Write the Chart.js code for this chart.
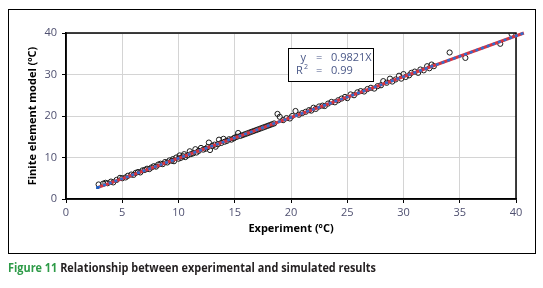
<!DOCTYPE html>
<html>
<head>
<meta charset="utf-8">
<script src="https://cdn.jsdelivr.net/npm/chart.js@4.4.1/dist/chart.umd.min.js"></script>
<style>
  html, body { margin: 0; padding: 0; background: #fff; }
  #wrap { position: relative; width: 543px; height: 288px; }
</style>
</head>
<body>
<div id="wrap"><canvas id="fig11" width="543" height="288"></canvas></div>
<script>
// measured (experiment) vs simulated (finite element model), degC
const expX = [2.9, 3.3, 3.5, 3.7, 4.0, 4.2, 4.5, 4.8, 5.0, 5.3, 5.5, 5.8, 6.0, 6.2, 6.4, 6.6, 6.8, 7.0,
  7.2, 7.4, 7.6, 7.8, 8.0, 8.2, 8.4, 8.6, 8.8, 9.0, 9.2, 9.4, 9.5, 9.6, 9.8, 10.0, 10.1, 10.2, 10.4,
  10.5, 10.6, 10.8, 11.0, 11.1, 11.3, 11.5, 11.6, 11.8, 12.0, 12.2, 12.4, 12.6, 12.7, 12.8, 13.0,
  13.2, 13.3, 13.5, 13.6, 13.8, 14.0, 14.1, 14.3, 14.5, 14.7, 14.9, 15.0, 15.2, 15.3, 15.5, 15.7,
  15.9, 16.1, 16.3, 16.5, 16.7, 16.9, 17.1, 17.3, 17.5, 17.7, 17.9, 18.1, 18.3, 18.5, 18.8, 19.0,
  19.3, 19.6, 19.9, 20.1, 20.4, 20.7, 21.0, 21.3, 21.6, 21.8, 22.0, 22.2, 22.5, 22.8, 23.0, 23.3,
  23.6, 23.9, 24.2, 24.5, 24.8, 25.0, 25.3, 25.6, 25.9, 26.2, 26.5, 26.8, 27.1, 27.4, 27.7, 28.0,
  28.2, 28.5, 28.8, 29.0, 29.3, 29.6, 29.8, 30.0, 30.2, 30.5, 30.7, 31.0, 31.3, 31.5, 31.8, 32.1,
  32.3, 32.5, 32.7, 34.1, 35.5, 38.6, 39.6];
const femY = [3.5, 3.7, 3.9, 3.8, 4.2, 4.0, 4.6, 5.1, 5.0, 5.2, 5.6, 5.9, 5.8, 6.3, 6.5, 6.4, 6.9, 7.0,
  7.3, 7.2, 7.6, 7.9, 7.8, 8.3, 8.5, 8.4, 8.9, 8.8, 9.3, 9.2, 9.6, 9.1, 10.0, 9.7, 10.5, 9.9, 10.3,
  10.8, 10.1, 10.5, 11.5, 10.8, 11.0, 12.0, 11.2, 11.6, 12.3, 11.9, 12.1, 12.5, 13.6, 11.8, 12.8,
  13.1, 12.6, 13.2, 14.3, 13.5, 14.5, 13.8, 14.0, 14.4, 14.3, 14.6, 14.8, 15.0, 15.9, 15.2, 15.4,
  15.6, 15.8, 16.0, 16.2, 16.4, 16.6, 16.8, 17.0, 17.2, 17.4, 17.6, 17.8, 18.0, 18.2, 20.5, 19.8,
  19.0, 19.5, 19.4, 20.0, 21.2, 20.3, 20.7, 21.0, 21.4, 21.3, 22.0, 21.7, 22.3, 22.5, 22.4, 23.0,
  23.4, 23.3, 23.8, 24.2, 24.6, 24.3, 25.2, 25.0, 25.7, 26.0, 25.9, 26.5, 26.8, 26.6, 27.2, 27.4,
  28.4, 28.0, 29.0, 28.3, 28.8, 29.7, 29.0, 30.1, 29.4, 29.8, 30.4, 30.7, 30.4, 31.2, 31.0, 32.0,
  31.5, 32.4, 32.0, 35.3, 34.0, 37.4, 39.8];

// fitted line y = 0.9821x, end points
const fitX = [2.8, 40.7];
const fitY = [2.75, 40.0];

const xTicks = [0, 5, 10, 15, 20, 25, 30, 35, 40];
const yTicks = [0, 10, 20, 30, 40];

const tickColor = '#4f5070';
const fontFam = '"Open Sans", "DejaVu Sans", sans-serif';

const pts = expX.map((x, i) => ({ x: x, y: femY[i] }));
const fit = fitX.map((x, i) => ({ x: x, y: fitY[i] }));

const framePlugin = {
  id: 'frame',
  beforeDatasetsDraw(chart) {
    const c = chart.ctx, a = chart.chartArea;
    c.save();
    c.strokeStyle = '#000';
    c.lineWidth = 1.5;
    c.strokeRect(a.left, a.top, a.right - a.left, a.bottom - a.top);
    c.restore();
  },
  afterDraw(chart) {
    const c = chart.ctx;
    c.save();
    // outer frame
    c.strokeStyle = '#000';
    c.lineWidth = 1;
    c.strokeRect(8.5, 9.5, 527, 244);

    // equation box
    c.fillStyle = '#fff';
    c.fillRect(288.5, 48.5, 85, 33);
    c.strokeRect(288.5, 48.5, 85, 33);
    c.fillStyle = '#4a5888';
    c.font = '11px ' + fontFam;
    c.textBaseline = 'middle';
    c.textAlign = 'right';
    c.fillText('y', 306, 58);
    c.textAlign = 'left';
    c.fillText('=', 316, 58);
    c.fillText('0.9821X', 331, 58);
    c.fillText('R', 296, 71);
    c.font = '7px ' + fontFam;
    c.fillText('2', 304, 67);
    c.font = '11px ' + fontFam;
    c.fillText('=', 316, 71);
    c.fillText('0.99', 331, 71);

    // caption
    c.textBaseline = 'alphabetic';
    c.font = 'bold 12.5px ' + fontFam;
    const a1 = 'Figure 11 ';
    const a2 = 'Relationship between experimental and simulated results';
    const w1 = c.measureText(a1).width, w2 = c.measureText(a2).width;
    const sx = 368 / (w1 + w2);
    c.translate(8, 272);
    c.scale(sx, 1);
    c.fillStyle = '#2e9b48';
    c.fillText(a1, 0, 0);
    c.fillStyle = '#231f20';
    c.fillText(a2, w1, 0);
    c.restore();
  }
};

new Chart(document.getElementById('fig11'), {
  type: 'scatter',
  data: {
    datasets: [
      {
        type: 'line',
        data: fit,
        borderColor: '#2f6fd0',
        borderWidth: 2.5,
        borderDash: [3, 3],
        pointRadius: 2,
        pointStyle: 'rect',
        pointBackgroundColor: '#1f5fbf',
        pointBorderWidth: 0,
        clip: false
      },
      {
        type: 'line',
        data: fit,
        borderColor: '#d8343f',
        borderWidth: 3,
        pointRadius: 0,
        clip: false
      },
      {
        data: pts,
        pointStyle: 'circle',
        pointRadius: 2.6,
        borderColor: '#1a1a1a',
        borderWidth: 1,
        backgroundColor: 'rgba(0,0,0,0)'
      }
    ]
  },
  options: {
    responsive: false,
    animation: false,
    events: [],
    layout: { padding: { left: 8, top: 33, right: 27, bottom: 50 } },
    plugins: {
      legend: { display: false },
      tooltip: { enabled: false }
    },
    scales: {
      x: {
        type: 'linear',
        min: 0,
        max: 40,
        afterBuildTicks: (s) => { s.ticks = xTicks.map(v => ({ value: v })); },
        afterFit: (s) => { s.height = 39; },
        grid: { color: '#d4d4d4', tickColor: '#000', tickLength: 4, lineWidth: 1 },
        border: { color: '#000', width: 1.5 },
        ticks: { color: tickColor, padding: 3, font: { family: fontFam, size: 11 } },
        title: {
          display: true,
          text: 'Experiment (ºC)',
          color: '#000',
          padding: { top: 0, bottom: 2.5 },
          font: { family: fontFam, size: 11, weight: 'bold' }
        }
      },
      y: {
        min: 0,
        max: 40,
        afterBuildTicks: (s) => { s.ticks = yTicks.map(v => ({ value: v })); },
        afterFit: (s) => { s.width = 58; },
        grid: { color: '#d4d4d4', tickColor: '#000', tickLength: 4, lineWidth: 1 },
        border: { color: '#000', width: 1.5 },
        ticks: { color: tickColor, padding: 5, font: { family: fontFam, size: 11 } },
        title: {
          display: true,
          text: 'Finite element model (ºC)',
          color: '#000',
          padding: { top: 18, bottom: 0 },
          font: { family: fontFam, size: 11, weight: 'bold' }
        }
      }
    }
  },
  plugins: [framePlugin]
});
</script>
</body>
</html>
